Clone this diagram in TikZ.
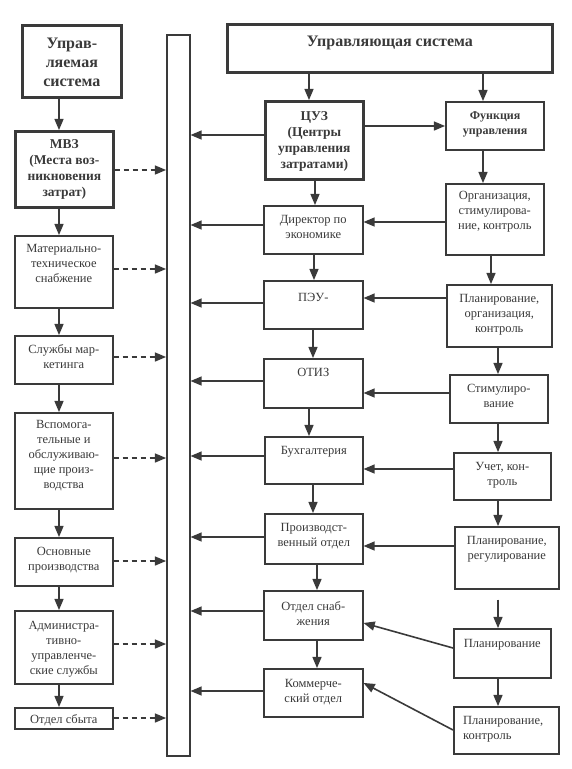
\documentclass[tikz,border=0pt]{standalone}
\usepackage{fontspec}
\setmainfont{Liberation Serif}
\usetikzlibrary{arrows, positioning}
\definecolor{ink}{HTML}{3A3A3A}
\newcommand{\fs}{\fontsize{12.5}{15}\selectfont}
\newcommand{\fbig}{\fontsize{16}{19}\selectfont\bfseries}
\newcommand{\fmid}{\fontsize{13.5}{16}\selectfont\bfseries}
\newcommand{\fsm}{\fontsize{12}{15}\selectfont\bfseries}
\tikzset{
  cell/.style={draw=ink, line width=1.6pt, anchor=north west, inner sep=0pt},
  heavy/.style={cell, line width=2.7pt},
  intop/.style={anchor=north, inner sep=0pt, align=center, text=ink, yshift=#1},
  link/.style={draw=ink, line width=1.6pt, ->},
  feed/.style={link, dash pattern=on 5pt off 4pt}
}
\begin{document}
\begin{tikzpicture}[>=triangle 45, x=1pt, y=-1pt, font=\fs]
    \useasboundingbox (0,0) rectangle (572,769);

    % shared bus
    \node[cell, minimum width=23, minimum height=721] (bus) at (166,34) {};

    % managed system
    \node[heavy, minimum width=99, minimum height=72,
      label={[intop=-13.5pt, font=\fbig]north:Управ-\\ляемая\\система}] (upr) at (21,24) {};
    \node[heavy, minimum width=98, minimum height=76,
      label={[intop=-9.5pt, font=\fmid]north:МВЗ\\(Места воз-\\никновения\\затрат)}] (mvz) at (14,130) {};
    \node[cell, minimum width=98, minimum height=72,
      label={[intop=-9pt]north:Материально-\\техническое\\снабжение}] (mat) at (14,235) {};
    \node[cell, minimum width=98, minimum height=48,
      label={[intop=-9pt]north:Службы мар-\\кетинга}] (mark) at (14,335) {};
    \node[cell, minimum width=98, minimum height=96,
      label={[intop=-8pt]north:Вспомога-\\тельные и\\обслуживаю-\\щие произ-\\водства}] (vsp) at (14,412) {};
    \node[cell, minimum width=98, minimum height=48,
      label={[intop=-10pt]north:Основные\\производства}] (osn) at (14,537) {};
    \node[cell, minimum width=98, minimum height=73,
      label={[intop=-11pt]north:Администра-\\тивно-\\управленче-\\ские службы}] (adm) at (14,610) {};
    \node[cell, minimum width=98, minimum height=21,
      label={[intop=-7pt]north:Отдел сбыта}] (sbyt) at (14,707) {};

    \draw[link] (upr.south -| 59,0) -- (mvz.north -| 59,0);
    \draw[link] (mvz.south -| 59,0) -- (mat.north -| 59,0);
    \draw[link] (mat.south -| 59,0) -- (mark.north -| 59,0);
    \draw[link] (mark.south -| 59,0) -- (vsp.north -| 59,0);
    \draw[link] (vsp.south -| 59,0) -- (osn.north -| 59,0);
    \draw[link] (osn.south -| 59,0) -- (adm.north -| 59,0);
    \draw[link] (adm.south -| 59,0) -- (sbyt.north -| 59,0);

    \draw[feed] (mvz.east |- 0,170) -- (bus.west |- 0,170);
    \draw[feed] (mat.east |- 0,269) -- (bus.west |- 0,269);
    \draw[feed] (mark.east |- 0,357) -- (bus.west |- 0,357);
    \draw[feed] (vsp.east |- 0,458) -- (bus.west |- 0,458);
    \draw[feed] (osn.east |- 0,561) -- (bus.west |- 0,561);
    \draw[feed] (adm.east |- 0,644) -- (bus.west |- 0,644);
    \draw[feed] (sbyt.east |- 0,718) -- (bus.west |- 0,718);

    % managing system
    \node[heavy, minimum width=325, minimum height=48,
      label={[intop=-12.5pt, font=\fbig]north:Управляющая система}] (us) at (226,23) {};
    \node[heavy, minimum width=98, minimum height=78,
      label={[intop=-11pt, font=\fmid]north:ЦУЗ\\(Центры\\управления\\затратами)}] (cuz) at (264,100) {};
    \node[cell, line width=2.2pt, minimum width=98, minimum height=48,
      label={[intop=-10pt, font=\fsm]north:Функция\\управления}] (func) at (445,101) {};

    % centres
    \node[cell, minimum width=99, minimum height=48,
      label={[intop=-10pt]north:Директор по\\экономике}] (dir) at (263,205) {};
    \node[cell, minimum width=99, minimum height=48,
      label={[intop=-13pt]north:ПЭУ-}] (peu) at (263,280) {};
    \node[cell, minimum width=99, minimum height=49,
      label={[intop=-10pt]north:ОТИЗ}] (otiz) at (263,358) {};
    \node[cell, minimum width=98, minimum height=47,
      label={[intop=-10pt]north:Бухгалтерия}] (buh) at (264,436) {};
    \node[cell, minimum width=98, minimum height=50,
      label={[intop=-10pt]north:Производст-\\венный отдел}] (proizv) at (264,513) {};
    \node[cell, minimum width=99, minimum height=49,
      label={[intop=-11pt]north:Отдел снаб-\\жения}] (snab) at (263,590) {};
    \node[cell, minimum width=99, minimum height=48,
      label={[intop=-11pt]north:Коммерче-\\ский отдел}] (komm) at (263,668) {};

    % functions
    \node[cell, minimum width=98, minimum height=71,
      label={[intop=-8pt]north:Организация,\\стимулирова-\\ние, контроль}] (org) at (445,183) {};
    \node[cell, minimum width=105, minimum height=62,
      label={[intop=-10pt]north:Планирование,\\организация,\\контроль}] (plorg) at (446,284) {};
    \node[cell, minimum width=98, minimum height=48,
      label={[intop=-10pt]north:Стимулиро-\\вание}] (stim) at (449,374) {};
    \node[cell, minimum width=97, minimum height=47,
      label={[intop=-10pt]north:Учет, кон-\\троль}] (uchet) at (453,452) {};
    \node[cell, minimum width=104, minimum height=62,
      label={[intop=-10pt]north:Планирование,\\регулирование}] (plreg) at (454,526) {};
    \node[cell, minimum width=97, minimum height=49,
      label={[intop=-11pt]north:Планирование}] (plan) at (453,628) {};
    \node[cell, minimum width=105, minimum height=47,
      label={[intop=-10pt, anchor=north west, align=left, xshift=10pt]north west:Планирование,\\контроль}] (plkon) at (453,706) {};

    \draw[link] (us.south -| 309,0) -- (cuz.north -| 309,0);
    \draw[link] (us.south -| 483,0) -- (func.north -| 483,0);
    \draw[link] (cuz.east |- 0,126) -- (func.west |- 0,126);

    \draw[link] (cuz.south -| 315,0) -- (dir.north -| 315,0);
    \draw[link] (dir.south -| 314,0) -- (peu.north -| 314,0);
    \draw[link] (peu.south -| 313,0) -- (otiz.north -| 313,0);
    \draw[link] (otiz.south -| 309,0) -- (buh.north -| 309,0);
    \draw[link] (buh.south -| 313,0) -- (proizv.north -| 313,0);
    \draw[link] (proizv.south -| 317,0) -- (snab.north -| 317,0);
    \draw[link] (snab.south -| 317,0) -- (komm.north -| 317,0);

    \draw[link] (func.south -| 483,0) -- (org.north -| 483,0);
    \draw[link] (org.south -| 491,0) -- (plorg.north -| 491,0);
    \draw[link] (plorg.south -| 498,0) -- (stim.north -| 498,0);
    \draw[link] (stim.south -| 498,0) -- (uchet.north -| 498,0);
    \draw[link] (uchet.south -| 498,0) -- (plreg.north -| 498,0);
    \draw[link, shorten <=10pt] (plreg.south -| 498,0) -- (plan.north -| 498,0);
    \draw[link] (plan.south -| 498,0) -- (plkon.north -| 498,0);

    \draw[link] (org.west |- 0,222) -- (dir.east |- 0,222);
    \draw[link] (plorg.west |- 0,298) -- (peu.east |- 0,298);
    \draw[link] (stim.west |- 0,393) -- (otiz.east |- 0,393);
    \draw[link] (uchet.west |- 0,469) -- (buh.east |- 0,469);
    \draw[link] (plreg.west |- 0,546) -- (proizv.east |- 0,546);
    \draw[link] (plan.west |- 0,648) -- (snab.east |- 0,623);
    \draw[link] (plkon.west |- 0,730) -- (komm.east |- 0,683);

    \draw[link] (cuz.west |- 0,135) -- (bus.east |- 0,135);
    \draw[link] (dir.west |- 0,225) -- (bus.east |- 0,225);
    \draw[link] (peu.west |- 0,303) -- (bus.east |- 0,303);
    \draw[link] (otiz.west |- 0,381) -- (bus.east |- 0,381);
    \draw[link] (buh.west |- 0,456) -- (bus.east |- 0,456);
    \draw[link] (proizv.west |- 0,537) -- (bus.east |- 0,537);
    \draw[link] (snab.west |- 0,611) -- (bus.east |- 0,611);
    \draw[link] (komm.west |- 0,691) -- (bus.east |- 0,691);
\end{tikzpicture}
\end{document}
